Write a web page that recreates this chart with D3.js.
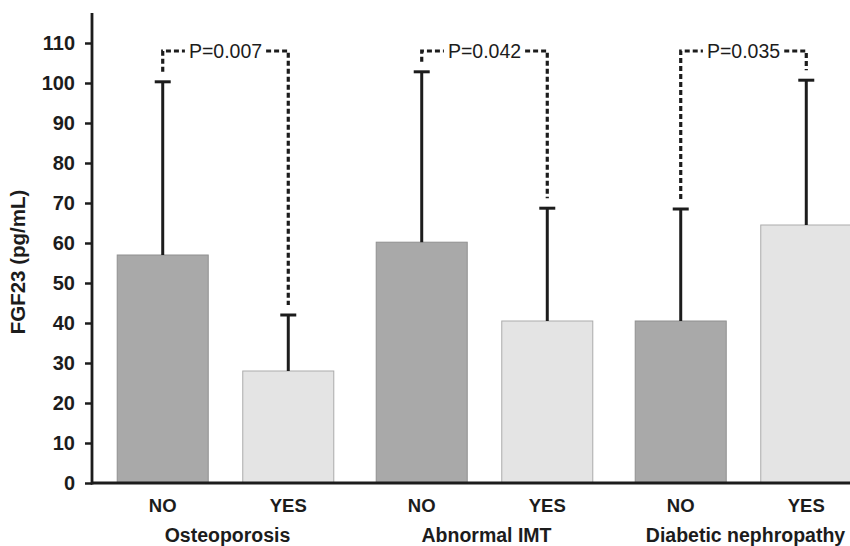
<!DOCTYPE html>
<html><head><meta charset="utf-8">
<script src="https://cdn.jsdelivr.net/npm/d3@7"></script>
<style>body{margin:0;background:#fff}svg{display:block}</style>
</head><body><svg id="c" width="850" height="546"></svg>
<script>
const groups = ["Osteoporosis", "Abnormal IMT", "Diabetic nephropathy"];
const subgroups = ["NO", "YES"];
const means = [[57, 28], [60.2, 40.5], [40.5, 64.5]];
const errTops = [[100.3, 42], [102.8, 68.7], [68.5, 100.7]];
const pValues = ["P=0.007", "P=0.042", "P=0.035"];
const yTicks = [0, 10, 20, 30, 40, 50, 60, 70, 80, 90, 100, 110];
const bracketLevel = 108;

const svg = d3.select("#c");
const font = "'Liberation Sans', Arial, sans-serif";
const ink = "#1c1c1c";

const y = d3.scaleLinear().domain([0, 110]).range([483, 43]);
const x0 = d3.scaleBand().domain(groups).range([96, 873]);
const x1 = d3.scaleBand().domain(subgroups).range([0, x0.bandwidth()]).paddingInner(0.275).paddingOuter(0.169);
const bw = x1.bandwidth();
const cx = (gi, s) => x0(groups[gi]) + x1(s) + bw / 2;

const data = [];
groups.forEach((g, gi) => subgroups.forEach((s, si) => data.push({g, gi, s, si, v: means[gi][si], e: errTops[gi][si]})));

// bars
svg.append("g").selectAll("rect").data(data).join("rect")
  .attr("x", d => x0(d.g) + x1(d.s))
  .attr("y", d => y(d.v))
  .attr("width", bw)
  .attr("height", d => y(0) - y(d.v))
  .attr("fill", d => d.s === "NO" ? "#a9a9a9" : "#e4e4e4")
  .attr("stroke", d => d.s === "NO" ? "#909090" : "#ababab")
  .attr("stroke-width", 1);

// error bars
const eg = svg.append("g").attr("stroke", ink).attr("stroke-width", 3);
data.forEach(d => {
  const c = cx(d.gi, d.s);
  eg.append("line").attr("x1", c).attr("x2", c).attr("y1", y(d.v)).attr("y2", y(d.e));
  eg.append("line").attr("x1", c - 8).attr("x2", c + 8).attr("y1", y(d.e)).attr("y2", y(d.e));
});

// axes
const yAxis = d3.axisLeft(y).tickValues(yTicks).tickSize(7).tickPadding(10);
const ya = svg.append("g").attr("transform", "translate(92,0)").call(yAxis);
ya.select(".domain").remove();
ya.selectAll(".tick line").attr("stroke", ink).attr("stroke-width", 2.5);
ya.selectAll(".tick text").attr("font-family", font).attr("font-size", 20).attr("font-weight", "bold").attr("fill", ink);
svg.append("line").attr("x1", 92).attr("x2", 92).attr("y1", y(117.5)).attr("y2", y(0) + 1.5)
  .attr("stroke", ink).attr("stroke-width", 2.8);
svg.append("line").attr("x1", 91).attr("x2", 850).attr("y1", y(0)).attr("y2", y(0))
  .attr("stroke", ink).attr("stroke-width", 2.8);

// x labels
const tg = svg.append("g").attr("font-family", font).attr("font-weight", "bold").attr("fill", ink).attr("text-anchor", "middle");
data.forEach(d => {
  tg.append("text").attr("x", cx(d.gi, d.s)).attr("y", 512).attr("font-size", 18.5).text(d.s);
});
groups.forEach(g => {
  tg.append("text").attr("x", x0(g) + x0.bandwidth() / 2 + 2).attr("y", 542).attr("font-size", 19.5).text(g);
});

// y label
svg.append("text").attr("transform", "translate(25,262) rotate(-90)")
  .attr("text-anchor", "middle").attr("font-family", font).attr("font-weight", "bold")
  .attr("font-size", 20.5).attr("fill", ink).text("FGF23 (pg/mL)");

// p-value brackets
const bg = svg.append("g");
const gapPx = 10;
groups.forEach((g, gi) => {
  const xl = cx(gi, "NO"), xr = cx(gi, "YES");
  const yb = y(bracketLevel);
  const t = bg.append("text").attr("x", (xl + xr) / 2).attr("y", yb + 7)
    .attr("text-anchor", "middle").attr("font-family", font).attr("font-size", 19.5)
    .attr("fill", ink).text(pValues[gi]);
  const bb = t.node().getBBox();
  const path = d3.path();
  path.moveTo(xl, y(errTops[gi][0]) - gapPx);
  path.lineTo(xl, yb);
  path.lineTo(bb.x - 4, yb);
  path.moveTo(bb.x + bb.width + 4, yb);
  path.lineTo(xr, yb);
  path.lineTo(xr, y(errTops[gi][1]) - gapPx);
  bg.append("path").attr("d", path.toString()).attr("fill", "none")
    .attr("stroke", ink).attr("stroke-width", 3.2).attr("stroke-dasharray", "5,3");
});
</script></body></html>
